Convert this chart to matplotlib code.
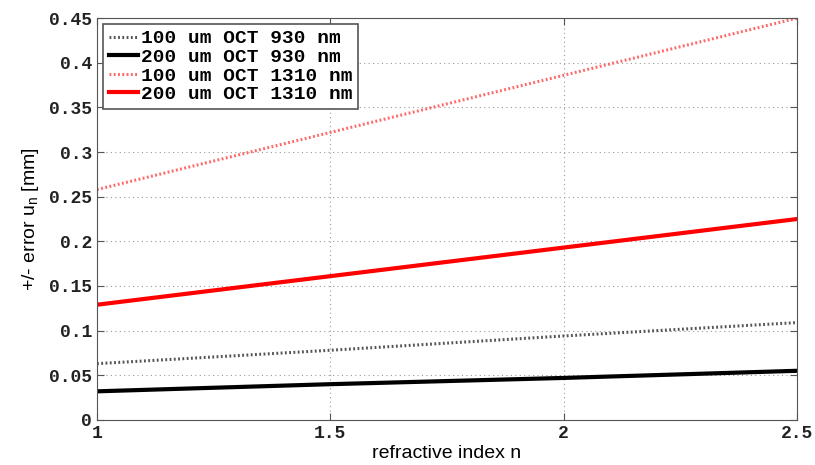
import matplotlib.pyplot as plt

n = [1.0, 1.5, 2.0, 2.5]
err_100_930 = [0.063, 0.078, 0.094, 0.109]
err_200_930 = [0.032, 0.040, 0.047, 0.055]
err_100_1310 = [0.258, 0.322, 0.386, 0.450]
err_200_1310 = [0.129, 0.161, 0.193, 0.225]

labels = ["100 um OCT 930 nm", "200 um OCT 930 nm",
          "100 um OCT 1310 nm", "200 um OCT 1310 nm"]

mono = "Liberation Mono"
sans = "Liberation Sans"

fig = plt.figure(figsize=(8.15, 4.65), dpi=100)
ax = fig.add_axes([0.119, 0.097, 0.859, 0.864])

ax.plot(n, err_100_930, color="#555555", lw=2.2, ls=(0, (0.6, 0.8)), label=labels[0])
ax.plot(n, err_200_930, color="black", lw=3, label=labels[1])
ax.plot(n, err_100_1310, color="#ff6666", lw=2.2, ls=(0, (0.6, 0.8)), label=labels[2])
ax.plot(n, err_200_1310, color="red", lw=3, label=labels[3])

ax.set_xlim(1, 2.5)
ax.set_ylim(0, 0.45)
ax.set_xticks([1, 1.5, 2, 2.5])
ax.set_xticklabels(["1", "1.5", "2", "2.5"])
ax.set_yticks([0, 0.05, 0.1, 0.15, 0.2, 0.25, 0.3, 0.35, 0.4, 0.45])
ax.set_yticklabels(["0", "0.05", "0.1", "0.15", "0.2", "0.25", "0.3", "0.35", "0.4", "0.45"])
for t in ax.get_xticklabels() + ax.get_yticklabels():
    t.set_fontfamily(mono)
    t.set_fontsize(13)
    t.set_fontweight("bold")
    t.set_color("#222222")

ax.tick_params(direction="in", top=True, right=True, length=5, color="#555555")
ax.grid(True, color="#999999", ls=(0, (1, 3)), lw=0.8)
for s in ax.spines.values():
    s.set_color("#555555")

ax.set_xlabel("refractive index n", fontfamily=sans, fontsize=14, labelpad=2)
ax.set_ylabel("+/- error u$_\\mathregular{n}$ [mm]", fontfamily=sans, fontsize=14, labelpad=6)

leg = ax.legend(loc="upper left", prop={"family": mono, "size": 14, "weight": "bold"},
                fancybox=False, framealpha=1, edgecolor="#555555",
                handlelength=1.5, handletextpad=0.15, borderpad=0.3,
                labelspacing=0.05, borderaxespad=0.3)
leg.get_frame().set_linewidth(1.2)

fig.savefig("out.png")
